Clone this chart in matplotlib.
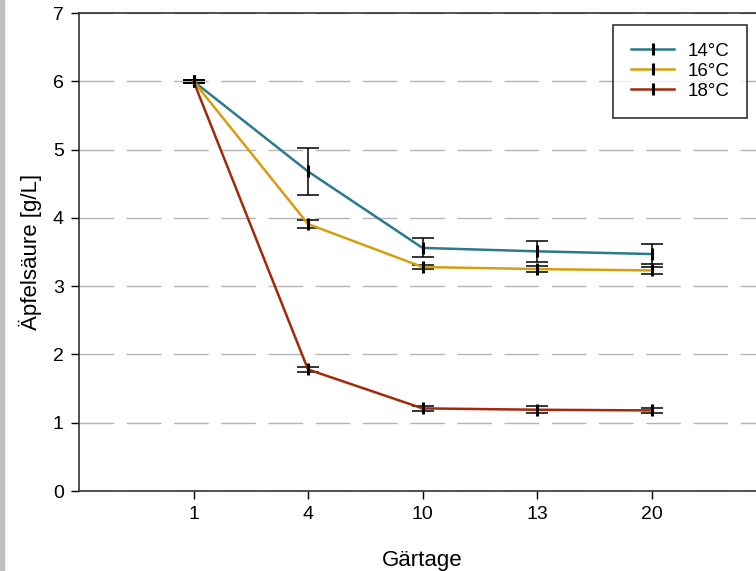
import matplotlib.pyplot as plt
from matplotlib.patches import Rectangle
import numpy as np

plt.rcParams["font.family"] = ["Liberation Sans", "DejaVu Sans"]

days = ["1", "4", "10", "13", "20"]
labels = ["14°C", "16°C", "18°C"]
colors = ["#2b7a8b", "#d49f0c", "#a3290b"]

mean_14 = [6.00, 4.68, 3.56, 3.51, 3.47]
err_14 = [0.02, 0.35, 0.14, 0.15, 0.15]
mean_16 = [6.00, 3.91, 3.28, 3.25, 3.23]
err_16 = [0.02, 0.06, 0.03, 0.05, 0.05]
mean_18 = [6.00, 1.78, 1.21, 1.19, 1.18]
err_18 = [0.02, 0.03, 0.04, 0.05, 0.04]

means = [mean_14, mean_16, mean_18]
errs = [err_14, err_16, err_18]

fig = plt.figure(figsize=(7.56, 5.71), dpi=100)
ax = fig.add_axes([79 / 756, 80 / 571, 687 / 756, 478 / 571])
fig.patches.append(Rectangle((0, 0), 4 / 756, 1, transform=fig.transFigure,
                             color="#c0c0c0", zorder=0))

x = np.arange(1, len(days) + 1)
for m, e, c, lab in zip(means, errs, colors, labels):
    ax.errorbar(x, m, yerr=e, fmt="none", ecolor="black", elinewidth=1.1,
                capsize=8, capthick=1.1, zorder=3)
    ax.plot(x, m, color=c, lw=1.8, marker="|", markersize=8, mew=2.2,
            mec="black", label=lab, zorder=4)

ax.set_xlim(0, 6)
ax.set_ylim(0, 7)
ax.set_xticks(x)
ax.set_xticklabels(days)
ax.set_yticks(range(0, 8))
ax.tick_params(labelsize=14, direction="out", length=6, width=1, pad=5)
ax.set_axisbelow(True)
ax.yaxis.grid(True, color="#b5b5b5", lw=1, linestyle=(0, (25, 9)))

for s in ax.spines.values():
    s.set_color("#333333")
    s.set_linewidth(1.2)

ax.set_xlabel("Gärtage", fontsize=16, labelpad=19)
ax.set_ylabel("Äpfelsäure [g/L]", fontsize=16, labelpad=8)

leg = ax.legend(loc="upper right", bbox_to_anchor=(668 / 687, 466 / 478),
                fontsize=13.5, frameon=True, fancybox=False, edgecolor="black",
                handlelength=2.3, handletextpad=0.7, borderpad=0.95,
                labelspacing=0.15, borderaxespad=0)
leg.get_frame().set_linewidth(1.2)

fig.savefig("out.png", dpi=100)
